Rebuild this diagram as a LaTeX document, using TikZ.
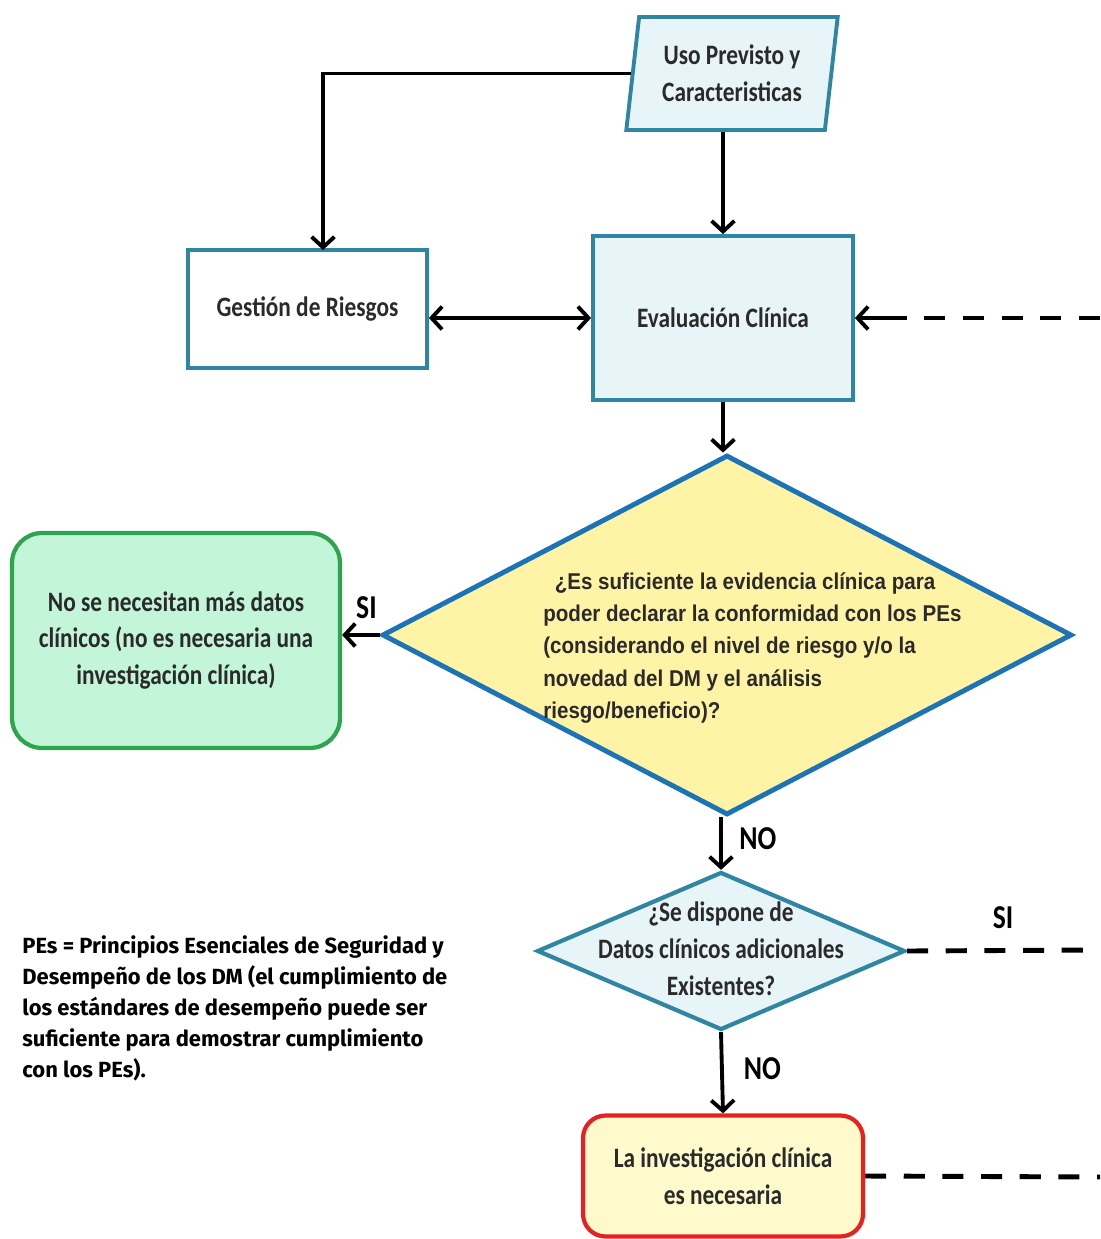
\documentclass[tikz,border=0pt]{standalone}
\usepackage{fontspec}
\usetikzlibrary{arrows.meta,shapes.geometric,positioning}
\newfontfamily\boxfont[FakeStretch=0.83]{Carlito}
\newfontfamily\dfont[FakeStretch=0.90]{Liberation Sans}
\newfontfamily\nfont{Fira Sans}
\definecolor{teal}{HTML}{2F86A2}
\definecolor{lblue}{HTML}{E7F4F8}
\definecolor{dblue}{HTML}{1C74B6}
\definecolor{dyell}{HTML}{FFF3A6}
\definecolor{mint}{HTML}{C3F5D9}
\definecolor{dgreen}{HTML}{2EA44F}
\definecolor{pyell}{HTML}{FFFACC}
\definecolor{dred}{HTML}{E52222}
\definecolor{txt}{HTML}{2A2A2A}
\tikzset{
  arr/.style={line width=2.2pt,-{Straight Barb[length=6pt,width=13pt,line width=2.2pt]}},
  darr/.style={arr,{Straight Barb[length=6pt,width=13pt,line width=2.2pt]}-{Straight Barb[length=6pt,width=13pt,line width=2.2pt]}},
  dashline/.style={line width=2.8pt,dash pattern=on 12pt off 10pt},
  boxtxt/.style={font=\boxfont\bfseries\fontsize{16}{21}\selectfont,text=txt,align=center},
  tealbox/.style={draw=teal,line width=2.2pt,rectangle,inner sep=0pt},
  lbl/.style={font=\boxfont\bfseries\fontsize{19}{20}\selectfont,text=black}
}
\begin{document}
\begin{tikzpicture}[x=0.02cm,y=-0.02cm]
\useasboundingbox (0,0) rectangle (1100,1239);
% nodes
\node[draw=teal,fill=lblue,line width=2.2pt,trapezium,trapezium left angle=81,trapezium right angle=99,trapezium stretches=true,minimum width=4.24cm,minimum height=2.26cm,inner sep=2pt,boxtxt] (uso) at (732,73.5) {Uso Previsto y\\Caracteristicas};
\node[tealbox,fill=white,minimum width=4.78cm,minimum height=2.36cm,boxtxt] (gest) at (307.5,309) {Gestión de Riesgos};
\node[tealbox,fill=lblue,minimum width=5.2cm,minimum height=3.28cm,boxtxt] (eval) at (723,318) {Evaluación Clínica};
\node[draw=dblue,fill=dyell,line width=2.8pt,diamond,minimum width=13.8cm,minimum height=7.2cm,inner sep=0pt] (d1) at (727,635) {};
\node[anchor=west,align=left,inner sep=0pt,font=\dfont\bfseries\fontsize{13}{18.3}\selectfont,text=txt] (d1t) at (543,648) {\hspace{0.5em}¿Es suficiente la evidencia clínica para\\poder declarar la conformidad con los PEs\\(considerando el nivel de riesgo y/o la\\novedad del DM y el análisis\\riesgo/beneficio)?};
\node[draw=dgreen,fill=mint,line width=2.4pt,rounded corners=0.6cm,minimum width=6.56cm,minimum height=4.3cm,boxtxt] (green) at (176,640.5) {No se necesitan más datos\\clínicos (no es necesaria una\\investigación clínica)};
\node[draw=teal,fill=lblue,line width=2.4pt,diamond,minimum width=7.36cm,minimum height=3.16cm,inner sep=0pt] (d2) at (721,951) {};
\node[boxtxt] (d2t) at (721,949) {¿Se dispone de\\Datos clínicos adicionales\\Existentes?};
\node[draw=dred,fill=pyell,line width=2.4pt,rounded corners=0.45cm,minimum width=5.6cm,minimum height=2.42cm,boxtxt] (red) at (723,1176) {La investigación clínica\\es necesaria};
\node[anchor=west,align=left,inner sep=0pt,font=\nfont\bfseries\fontsize{12.5}{17.6}\selectfont,text=black] (note) at (22,1008) {PEs = Principios Esenciales de Seguridad y\\Desempeño de los DM (el cumplimiento de\\los estándares de desempeño puede ser\\suficiente para demostrar cumplimiento\\con los PEs).};
% free ends at right edge
\coordinate (r1) at (1100,318);
\coordinate (r2) at (1100,950);
\coordinate (r3) at (1100,1177);
\coordinate (gtop) at (323,250);
% connectors
\draw[arr] (uso.west) -| (gtop);
\draw[arr] (uso.south -| eval.north) -- (eval.north);
\draw[darr] (gest.east |- eval.west) -- (eval.west);
\draw[dashline] (r1) -- ([xshift=14pt]eval.east);
\draw[arr] ([xshift=22pt]eval.east) -- (eval.east);
\draw[arr] (eval.south) -- (eval.south |- d1.north);
\draw[arr] (d1.west) -- (green.east |- d1.west) node[lbl,pos=0.35,above=5pt] (si1) {SI};
\draw[arr] (d1.south -| d2.north) -- (d2.north) node[lbl,pos=0.4,right=6pt] (no1) {NO};
\draw[dashline] (d2.east) -- (r2);
\node[lbl] (si2) at (1003,918) {SI};
\draw[arr] (d2.south) -- (red.north) node[lbl,pos=0.45,right=8pt] (no2) {NO};
\draw[dashline] (red.east) -- (r3);
\end{tikzpicture}
\end{document}
